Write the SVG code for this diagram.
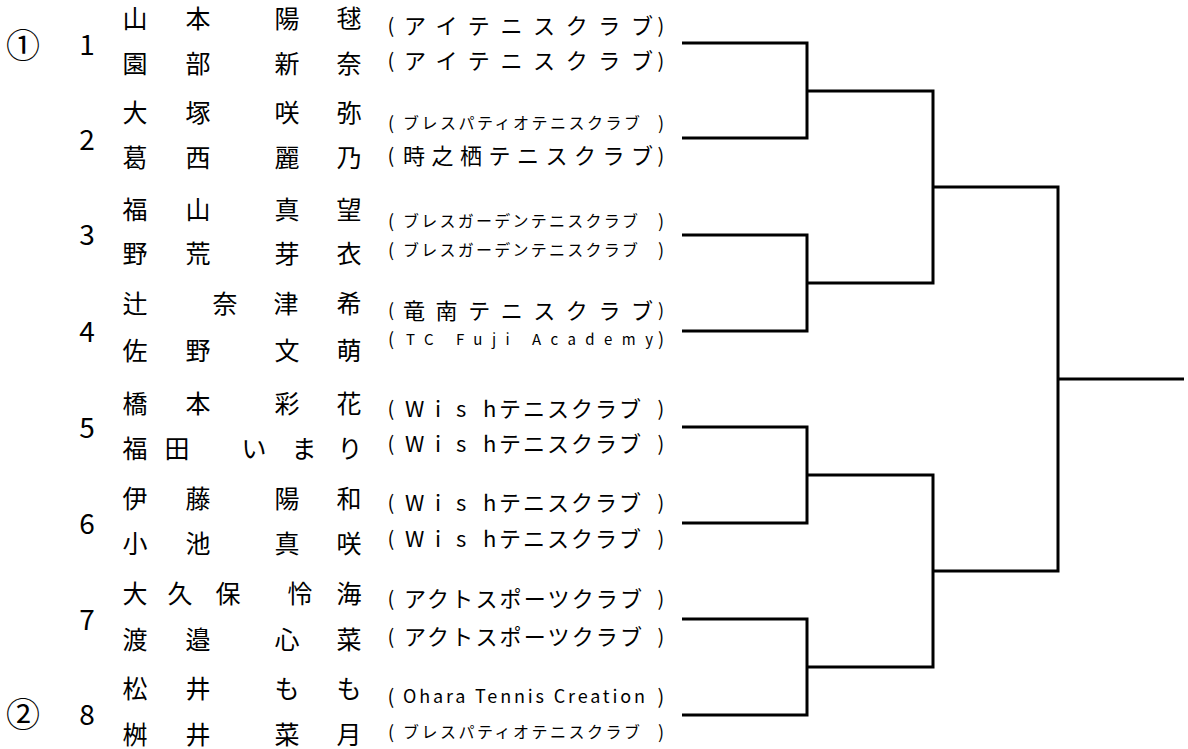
<svg xmlns="http://www.w3.org/2000/svg" width="1188" height="749" viewBox="0 0 1188 749">
<style>
text{font-family:"Noto Sans CJK JP","Noto Sans",sans-serif;fill:#000;dominant-baseline:central}
.nm{font-size:25px;text-anchor:middle}
.no{font-size:28px;text-anchor:middle}
.sd{font-size:34px;text-anchor:middle}
.cl{font-size:22px}
.sm{font-size:16px}
.p{font-size:20px;text-anchor:middle}
.ps{font-size:18px;text-anchor:middle}
.line{fill:none;stroke:#000;stroke-width:3;stroke-linejoin:miter;stroke-linecap:butt}
</style>
<rect width="1188" height="749" fill="#fff"/>
<g id="seeds">
<text class="sd" x="23" y="43">①</text>
<text class="sd" x="23" y="712">②</text>
</g>
<g id="entry1">
<text class="no" x="87" y="43">1</text>
<text class="nm" x="135 198 287 349" y="17">山本陽毬</text>
<text class="nm" x="135 198 287 349" y="62">園部新奈</text>
<text class="cl" y="24"><tspan class="p" x="391">(</tspan><tspan x="404" textLength="249" lengthAdjust="spacing">アイテニスクラブ</tspan><tspan class="p" x="661">)</tspan></text>
<text class="cl" y="59"><tspan class="p" x="391">(</tspan><tspan x="404" textLength="249" lengthAdjust="spacing">アイテニスクラブ</tspan><tspan class="p" x="661">)</tspan></text>
</g>
<g id="entry2">
<text class="no" x="87" y="138">2</text>
<text class="nm" x="135 198 287 349" y="111">大塚咲弥</text>
<text class="nm" x="135 198 287 349" y="156">葛西麗乃</text>
<text class="cl" y="122"><tspan class="ps" x="391">(</tspan><tspan class="sm" x="403" textLength="237" lengthAdjust="spacing">ブレスパティオテニスクラブ</tspan><tspan class="ps" x="661">)</tspan></text>
<text class="cl" y="154"><tspan class="p" x="391">(</tspan><tspan x="403" textLength="250" lengthAdjust="spacing">時之栖テニスクラブ</tspan><tspan class="p" x="661">)</tspan></text>
</g>
<g id="entry3">
<text class="no" x="87" y="233">3</text>
<text class="nm" x="135 198 287 349" y="208">福山真望</text>
<text class="nm" x="135 198 287 349" y="252">野荒芽衣</text>
<text class="cl" y="220"><tspan class="ps" x="391">(</tspan><tspan class="sm" x="403" textLength="235" lengthAdjust="spacing">ブレスガーデンテニスクラブ</tspan><tspan class="ps" x="661">)</tspan></text>
<text class="cl" y="249"><tspan class="ps" x="391">(</tspan><tspan class="sm" x="403" textLength="235" lengthAdjust="spacing">ブレスガーデンテニスクラブ</tspan><tspan class="ps" x="661">)</tspan></text>
</g>
<g id="entry4">
<text class="no" x="87" y="330">4</text>
<text class="nm" x="135 225 286 349" y="302">辻奈津希</text>
<text class="nm" x="135 198 287 349" y="349">佐野文萌</text>
<text class="cl" y="309"><tspan class="ps" x="391">(</tspan><tspan x="403" textLength="250" lengthAdjust="spacing">竜南テニスクラブ</tspan><tspan class="ps" x="661">)</tspan></text>
<text class="cl" y="338"><tspan class="ps" x="391">(</tspan><tspan style="font-size:15px" x="406" textLength="247" lengthAdjust="spacing">TC Fuji Academy</tspan><tspan class="ps" x="661">)</tspan></text>
</g>
<g id="entry5">
<text class="no" x="87" y="426">5</text>
<text class="nm" x="135 198 287 349" y="402">橋本彩花</text>
<text class="nm" x="135 177 254 304 350" y="447">福田いまり</text>
<text class="cl" y="407"><tspan class="p" x="391">(</tspan><tspan x="405 435 456 483 499 523 547 571 595 619">Wishテニスクラブ</tspan><tspan class="p" x="661">)</tspan></text>
<text class="cl" y="442"><tspan class="p" x="391">(</tspan><tspan x="405 435 456 483 499 523 547 571 595 619">Wishテニスクラブ</tspan><tspan class="p" x="661">)</tspan></text>
</g>
<g id="entry6">
<text class="no" x="87" y="522">6</text>
<text class="nm" x="135 198 287 349" y="497">伊藤陽和</text>
<text class="nm" x="135 198 287 349" y="542">小池真咲</text>
<text class="cl" y="501"><tspan class="p" x="391">(</tspan><tspan x="405 435 456 483 499 523 547 571 595 619">Wishテニスクラブ</tspan><tspan class="p" x="661">)</tspan></text>
<text class="cl" y="537"><tspan class="p" x="391">(</tspan><tspan x="405 435 456 483 499 523 547 571 595 619">Wishテニスクラブ</tspan><tspan class="p" x="661">)</tspan></text>
</g>
<g id="entry7">
<text class="no" x="87" y="618">7</text>
<text class="nm" x="135 180 228 300 349" y="592">大久保怜海</text>
<text class="nm" x="135 198 287 349" y="638">渡邉心菜</text>
<text class="cl" y="597"><tspan class="p" x="391">(</tspan><tspan x="404" textLength="238" lengthAdjust="spacing">アクトスポーツクラブ</tspan><tspan class="p" x="661">)</tspan></text>
<text class="cl" y="635"><tspan class="p" x="391">(</tspan><tspan x="404" textLength="238" lengthAdjust="spacing">アクトスポーツクラブ</tspan><tspan class="p" x="661">)</tspan></text>
</g>
<g id="entry8">
<text class="no" x="87" y="713">8</text>
<text class="nm" x="135 198 287 349" y="687">松井もも</text>
<text class="nm" x="135 198 287 349" y="733">桝井菜月</text>
<text class="cl" y="695"><tspan class="p" x="391">(</tspan><tspan style="font-size:18px" x="403" textLength="242" lengthAdjust="spacing">Ohara Tennis Creation</tspan><tspan class="p" x="661">)</tspan></text>
<text class="cl" y="731"><tspan class="ps" x="391">(</tspan><tspan class="sm" x="403" textLength="237" lengthAdjust="spacing">ブレスパティオテニスクラブ</tspan><tspan class="ps" x="661">)</tspan></text>
</g>
<g id="connectors">
<path class="line" d="M682 43H807V138H682"/>
<path class="line" d="M682 235H807V331H682"/>
<path class="line" d="M682 427H807V523H682"/>
<path class="line" d="M682 619H807V715H682"/>
<path class="line" d="M807 91H933V283H807"/>
<path class="line" d="M807 475H933V667H807"/>
<path class="line" d="M933 187H1058V571H933"/>
<path class="line" d="M1058 379H1184"/>
</g>
</svg>
